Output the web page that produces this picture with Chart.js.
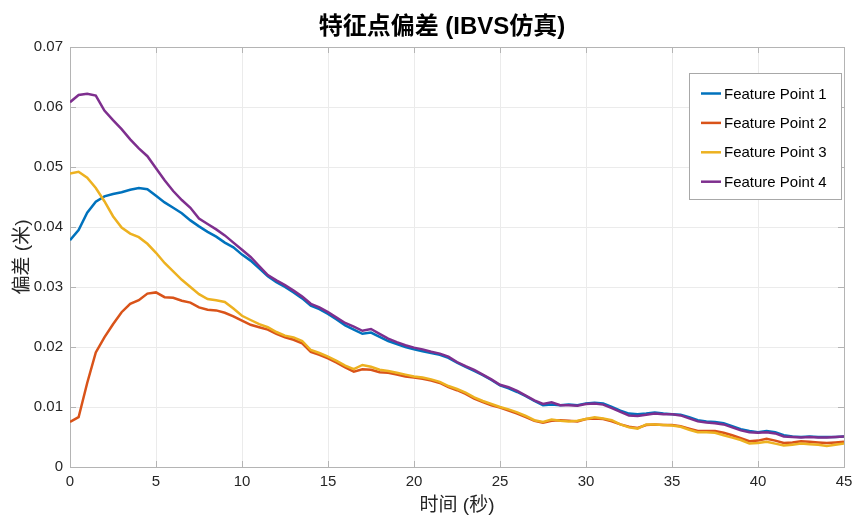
<!DOCTYPE html>
<html>
<head>
<meta charset="utf-8">
<script src="https://cdn.jsdelivr.net/npm/chart.js@4.4.1/dist/chart.umd.min.js"></script>
<style>
  body { margin: 0; background: #fff; }
  #wrap { width: 854px; height: 515px; }
</style>
</head>
<body>
<div id="wrap"><canvas id="chart" width="854" height="515"></canvas></div>
<script>
// time (s)
const times = [
  0, 0.5, 1, 1.5, 2, 2.5, 3, 3.5, 4, 4.5,
  5, 5.5, 6, 6.5, 7, 7.5, 8, 8.5, 9, 9.5,
  10, 10.5, 11, 11.5, 12, 12.5, 13, 13.5, 14, 14.5,
  15, 15.5, 16, 16.5, 17, 17.5, 18, 18.5, 19, 19.5,
  20, 20.5, 21, 21.5, 22, 22.5, 23, 23.5, 24, 24.5,
  25, 25.5, 26, 26.5, 27, 27.5, 28, 28.5, 29, 29.5,
  30, 30.5, 31, 31.5, 32, 32.5, 33, 33.5, 34, 34.5,
  35, 35.5, 36, 36.5, 37, 37.5, 38, 38.5, 39, 39.5,
  40, 40.5, 41, 41.5, 42, 42.5, 43, 43.5, 44, 44.5,
  45
];

// deviation (m) per feature point
const point1 = [
  0.0378, 0.0395, 0.0424, 0.0442, 0.0451, 0.0455, 0.0458, 0.0462, 0.0465, 0.0463,
  0.0452, 0.0441, 0.0432, 0.0423, 0.0411, 0.0401, 0.0392, 0.0384, 0.0374, 0.0366,
  0.0354, 0.0344, 0.0331, 0.0318, 0.0308, 0.0300, 0.0291, 0.0281, 0.0269, 0.0263,
  0.0255, 0.0246, 0.0236, 0.0229, 0.0222, 0.0224, 0.0217, 0.0210, 0.0205, 0.0200,
  0.0196, 0.0193, 0.0190, 0.0187, 0.0182, 0.0174, 0.0167, 0.0160, 0.0153, 0.0145,
  0.0136, 0.0131, 0.0125, 0.0118, 0.0110, 0.0103, 0.0104, 0.0103, 0.0104, 0.0103,
  0.0106, 0.0107, 0.0106, 0.0100, 0.0094, 0.0089, 0.0088, 0.0089, 0.0091, 0.0089,
  0.0088, 0.0087, 0.0083, 0.0078, 0.0076, 0.0075, 0.0073, 0.0068, 0.0063, 0.0060,
  0.0058, 0.0060, 0.0058, 0.0053, 0.0051, 0.0050, 0.0051, 0.0050, 0.0050, 0.0050,
  0.0051
];
const point2 = [
  0.0075, 0.0083, 0.0140, 0.0191, 0.0216, 0.0238, 0.0258, 0.0272, 0.0278, 0.0289,
  0.0291, 0.0283, 0.0282, 0.0277, 0.0274, 0.0266, 0.0262, 0.0261, 0.0257, 0.0251,
  0.0244, 0.0237, 0.0233, 0.0229, 0.0222, 0.0216, 0.0212, 0.0206, 0.0192, 0.0187,
  0.0181, 0.0174, 0.0166, 0.0159, 0.0163, 0.0162, 0.0158, 0.0157, 0.0154, 0.0151,
  0.0149, 0.0147, 0.0144, 0.0140, 0.0133, 0.0128, 0.0122, 0.0114, 0.0108, 0.0103,
  0.0099, 0.0094, 0.0089, 0.0083, 0.0077, 0.0074, 0.0077, 0.0078, 0.0077, 0.0076,
  0.0080, 0.0081, 0.0080, 0.0076, 0.0071, 0.0067, 0.0065, 0.0070, 0.0071, 0.0070,
  0.0070, 0.0068, 0.0064, 0.0060, 0.0060, 0.0060, 0.0057, 0.0053, 0.0048, 0.0043,
  0.0044, 0.0047, 0.0044, 0.0040, 0.0041, 0.0043, 0.0042, 0.0041, 0.0040, 0.0041,
  0.0042
];
const point3 = [
  0.0489, 0.0492, 0.0482, 0.0465, 0.0443, 0.0418, 0.0399, 0.0389, 0.0383, 0.0372,
  0.0357, 0.0340, 0.0326, 0.0312, 0.0300, 0.0288, 0.0280, 0.0278, 0.0275, 0.0264,
  0.0252, 0.0245, 0.0238, 0.0233, 0.0225, 0.0219, 0.0216, 0.0210, 0.0195, 0.0190,
  0.0184, 0.0177, 0.0169, 0.0163, 0.0170, 0.0167, 0.0162, 0.0160, 0.0157, 0.0154,
  0.0151, 0.0149, 0.0146, 0.0142, 0.0135, 0.0130, 0.0124, 0.0116, 0.0110, 0.0105,
  0.0100, 0.0096, 0.0091, 0.0085, 0.0078, 0.0075, 0.0079, 0.0077, 0.0076, 0.0077,
  0.0080, 0.0083, 0.0081, 0.0078, 0.0071, 0.0066, 0.0064, 0.0071, 0.0071, 0.0070,
  0.0069, 0.0067, 0.0062, 0.0058, 0.0058, 0.0057, 0.0053, 0.0049, 0.0045, 0.0039,
  0.0040, 0.0042, 0.0039, 0.0036, 0.0037, 0.0039, 0.0038, 0.0037, 0.0035, 0.0037,
  0.0039
];
const point4 = [
  0.0608, 0.0620, 0.0622, 0.0619, 0.0594, 0.0578, 0.0563, 0.0546, 0.0531, 0.0518,
  0.0498, 0.0478, 0.0460, 0.0445, 0.0432, 0.0414, 0.0405, 0.0396, 0.0386, 0.0374,
  0.0362, 0.0350, 0.0335, 0.0320, 0.0311, 0.0303, 0.0294, 0.0284, 0.0272, 0.0266,
  0.0258, 0.0249, 0.0240, 0.0234, 0.0227, 0.0230, 0.0222, 0.0214, 0.0208, 0.0203,
  0.0199, 0.0196, 0.0192, 0.0189, 0.0184, 0.0175, 0.0168, 0.0162, 0.0154, 0.0146,
  0.0137, 0.0133, 0.0127, 0.0119, 0.0111, 0.0105, 0.0108, 0.0103, 0.0103, 0.0102,
  0.0105, 0.0106, 0.0104, 0.0098, 0.0092, 0.0086, 0.0085, 0.0087, 0.0089, 0.0088,
  0.0088, 0.0086, 0.0081, 0.0076, 0.0074, 0.0073, 0.0071, 0.0066, 0.0061, 0.0058,
  0.0057, 0.0058, 0.0056, 0.0051, 0.0050, 0.0049, 0.0050, 0.0049, 0.0049, 0.0050,
  0.0051
];

const seriesNames = ["Feature Point 1", "Feature Point 2", "Feature Point 3", "Feature Point 4"];
const seriesValues = [point1, point2, point3, point4];
const seriesColors = ["#0072BD", "#D95319", "#EDB120", "#7E2F8E"];

const titleText = "特征点偏差 (IBVS仿真)";
const xTitle = "时间 (秒)";
const yTitle = "偏差 (米)";

const FONT = "'Liberation Sans', 'Noto Sans CJK SC', sans-serif";
const AXIS_COLOR = "#b4b4b4";

const datasets = seriesValues.map((vals, i) => ({
  label: seriesNames[i],
  data: times.map((t, k) => ({ x: t, y: vals[k] })),
  borderColor: seriesColors[i],
  backgroundColor: seriesColors[i],
  borderWidth: 2.5,
  pointRadius: 0,
  tension: 0,
  order: seriesValues.length - i, // later series drawn on top, like matlab
}));

// title, box with inward ticks, legend
const matlabLook = {
  id: "matlabLook",
  beforeDatasetsDraw(chart) {
    const { ctx, chartArea: a, scales } = chart;
    ctx.save();
    ctx.strokeStyle = AXIS_COLOR;
    ctx.lineWidth = 1;
    ctx.beginPath();
    scales.x.ticks.forEach(t => {
      const px = Math.round(scales.x.getPixelForValue(t.value)) + 0.5;
      ctx.moveTo(px, a.bottom); ctx.lineTo(px, a.bottom - 6);
      ctx.moveTo(px, a.top); ctx.lineTo(px, a.top + 6);
    });
    scales.y.ticks.forEach(t => {
      const py = Math.round(scales.y.getPixelForValue(t.value)) + 0.5;
      ctx.moveTo(a.left, py); ctx.lineTo(a.left + 6, py);
      ctx.moveTo(a.right, py); ctx.lineTo(a.right - 6, py);
    });
    ctx.stroke();
    ctx.strokeRect(Math.round(a.left) + 0.5, Math.round(a.top) + 0.5,
      Math.round(a.right - a.left), Math.round(a.bottom - a.top));
    ctx.restore();
  },
  afterDraw(chart) {
    const { ctx } = chart;
    ctx.save();
    // title
    ctx.fillStyle = "#000";
    ctx.font = "bold 24px " + FONT;
    ctx.textAlign = "center";
    ctx.textBaseline = "middle";
    ctx.fillText(titleText, 442, 27);

    // legend
    const bx = 689.5, by = 73.5, bw = 152, bh = 126;
    ctx.fillStyle = "#fff";
    ctx.fillRect(bx, by, bw, bh);
    ctx.strokeStyle = "#a8a8a8";
    ctx.lineWidth = 1;
    ctx.strokeRect(bx, by, bw, bh);
    ctx.font = "15px " + FONT;
    ctx.textAlign = "left";
    chart.data.datasets.forEach((ds, i) => {
      const y = 93.5 + i * 29.4;
      ctx.strokeStyle = ds.borderColor;
      ctx.lineWidth = 2.5;
      ctx.beginPath();
      ctx.moveTo(701, y); ctx.lineTo(721, y);
      ctx.stroke();
      ctx.fillStyle = "#000";
      ctx.fillText(ds.label, 724, y + 1);
    });
    ctx.restore();
  }
};

new Chart(document.getElementById("chart"), {
  type: "line",
  data: { datasets: datasets },
  plugins: [matlabLook],
  options: {
    responsive: false,
    animation: false,
    layout: { padding: { top: 47, right: 10, left: 0, bottom: 0 } },
    plugins: {
      legend: { display: false },
      title: { display: false },
      tooltip: { enabled: false },
    },
    scales: {
      x: {
        type: "linear",
        min: 0,
        max: 45,
        ticks: {
          stepSize: 5,
          color: "#262626",
          padding: 6,
          maxRotation: 0,
          font: { family: FONT, size: 15 },
        },
        grid: { color: "#ebebeb", drawTicks: false },
        border: { display: false },
        title: {
          display: true,
          text: xTitle,
          color: "#262626",
          font: { family: FONT, size: 19 },
          padding: { top: 0, bottom: -2 },
        },
        afterFit: (scale) => {
          scale.height = 48;
          scale.paddingLeft = 0;
          scale.paddingRight = 0;
        },
      },
      y: {
        min: 0,
        max: 0.07,
        ticks: {
          stepSize: 0.01,
          color: "#262626",
          padding: 7,
          font: { family: FONT, size: 15 },
        },
        grid: { color: "#ebebeb", drawTicks: false },
        border: { display: false },
        title: {
          display: true,
          text: yTitle,
          color: "#262626",
          font: { family: FONT, size: 19 },
          padding: { top: 11, bottom: 0 },
        },
        afterFit: (scale) => {
          scale.width = 70;
          scale.paddingTop = 0;
          scale.paddingBottom = 0;
        },
      },
    },
  },
});
</script>
</body>
</html>
